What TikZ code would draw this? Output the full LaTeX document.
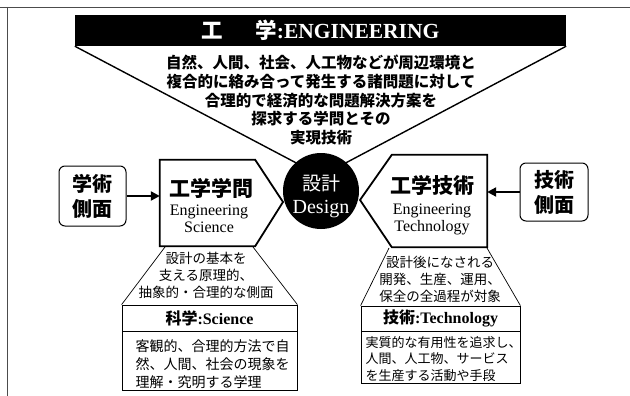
\documentclass[tikz,border=0pt]{standalone}
\usepackage{fontspec}
\setmainfont{Liberation Serif}
\newfontfamily\jp{Noto Sans CJK JP}
\usetikzlibrary{arrows.meta}
\begin{document}
\begin{tikzpicture}[x=1pt,y=-1pt,
  arr/.style={line width=2.2pt,-{Triangle[length=9pt,width=9pt]}},
  pent/.style={line width=1.8pt,line join=miter},
  thinline/.style={line width=0.7pt},
  hbox/.style={draw,line width=0.8pt,inner sep=0pt},
  rbox/.style={draw,line width=1pt,rounded corners=6pt,inner sep=0pt,align=center,font={\jp\bfseries\fontsize{20}{25}\selectfont}},
  small/.style={font={\jp\fontsize{13.5}{17}\selectfont}},
  body/.style={inner sep=0pt}]
\useasboundingbox (0,0) rectangle (630,396);
\fill[white] (0,0) rectangle (630,396);
% frame
\draw[line width=0.8pt,black!70] (0,7) -- (630,7);
\draw[line width=0.8pt,black!70] (7,7) -- (7,396);
% banner
\node (banner) [fill=black,minimum width=491pt,minimum height=31pt,inner sep=0pt,text=white,font={\fontsize{21.5}{24}\selectfont}] at (320.5,30.5) {{\jp\bfseries 工\hspace{1.5em}学}\textbf{:ENGINEERING}};
\coordinate (V) at (321,176);
\draw[line width=1.4pt] (banner.south west) -- (V) -- (banner.south east);
\node (para) [align=center,font={\jp\bfseries\fontsize{15.5}{18.7}\selectfont}] at (321,100) {自然、人間、社会、人工物などが周辺環境と\\複合的に絡み合って発生する諸問題に対して\\合理的で経済的な問題解決方案を\\探求する学問とその\\実現技術};
% design circle
\node (design) [circle,fill=black,minimum size=76pt,inner sep=0pt] at (321,191) {};
\node (sekkei) [text=white,font={\jp\fontsize{19}{19}\selectfont}] at (321,183) {設計};
\node (designtxt) [text=white,font={\fontsize{20}{20}\selectfont}] at (321,209) {Design};
% left pentagon
\node (sci) [body,minimum width=95pt,minimum height=86pt] at (207.5,203) {};
\coordinate (sciTip) at (283,202);
\draw[pent] (sci.north west) -- (sci.north east) -- (sciTip) -- (sci.south east) -- (sci.south west) -- cycle;
\node (sciJ) [font={\jp\bfseries\fontsize{21}{21}\selectfont}] at (211,188) {工学学問};
\node (sciE) [align=center,font={\fontsize{16}{17}\selectfont}] at (209,219) {Engineering\\Science};
% right pentagon
\node (tec) [body,minimum width=95pt,minimum height=92pt] at (439.5,201) {};
\coordinate (tecTip) at (360,200);
\draw[pent] (tec.north east) -- (tec.north west) -- (tecTip) -- (tec.south west) -- (tec.south east) -- cycle;
\node (tecJ) [font={\jp\bfseries\fontsize{21}{21}\selectfont}] at (432,185) {工学技術};
\node (tecE) [align=center,font={\fontsize{16}{17}\selectfont}] at (432,219) {Engineering\\Technology};
% side boxes
\node (gak) [rbox,minimum width=67pt,minimum height=60pt] at (92.5,196) {学術\\側面};
\node (tek) [rbox,minimum width=68pt,minimum height=58pt] at (554,192) {技術\\側面};
\draw[arr] (gak.east) -- (gak.east -| sci.west);
\draw[arr] (tek.west) -- (tek.west -| tec.east);
% left lower column
\node (scih) [hbox,minimum width=175pt,minimum height=26pt,font={\fontsize{16}{16}\selectfont}] at (209.5,318) {{\jp\bfseries 科学}\textbf{:Science}};
\node (scil) [hbox,minimum width=175pt,minimum height=59pt] at (209.5,360.5) {};
\coordinate (sciA) at (165,247);
\coordinate (sciB) at (253,247);
\draw[thinline] (sciA) -- (scih.north west);
\draw[thinline] (sciB) -- (scih.north east);
\node (sciD) [small,align=center] at (206,275) {設計の基本を\\支える原理的、\\抽象的・合理的な側面};
\node (sciT) [font={\jp\fontsize{14}{18}\selectfont},align=left,anchor=west] at (132,364) {客観的、合理的方法で自\\然、人間、社会の現象を\\理解・究明する学理};
% right lower column
\node (tech) [hbox,minimum width=159pt,minimum height=25pt,font={\fontsize{16}{16}\selectfont}] at (440.5,318.5) {{\jp\bfseries 技術}\textbf{:Technology}};
\node (tecl) [hbox,minimum width=159pt,minimum height=52pt] at (440.5,357) {};
\coordinate (tecA) at (389,248);
\coordinate (tecB) at (487,248);
\draw[thinline] (tecA) -- (tech.north west);
\draw[thinline] (tecB) -- (tech.north east);
\node (tecD) [small,align=center] at (440,279) {設計後になされる\\開発、生産、運用、\\保全の全過程が対象};
\node (tecT) [font={\jp\fontsize{13}{16.5}\selectfont},align=left,anchor=west] at (362,359) {実質的な有用性を追求し、\\人間、人工物、サービス\\を生産する活動や手段};
\end{tikzpicture}
\end{document}
